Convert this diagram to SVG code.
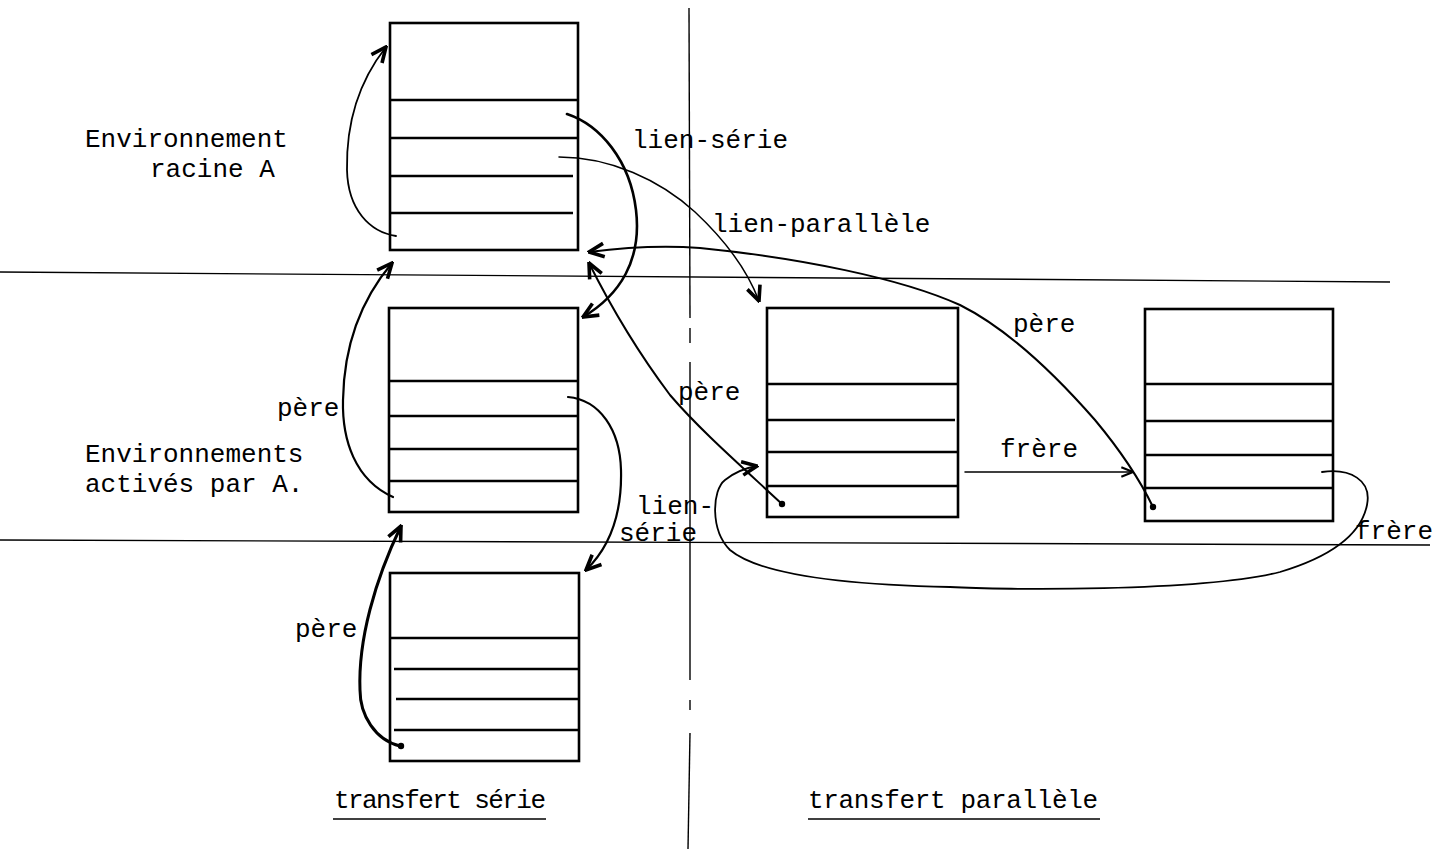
<svg xmlns="http://www.w3.org/2000/svg" width="1445" height="849" viewBox="0 0 1445 849">
<defs>
<marker id="arr" viewBox="0 0 12 12" refX="11" refY="6" markerWidth="18" markerHeight="18" markerUnits="userSpaceOnUse" orient="auto">
<path d="M1,1.5 L11,6 L1,10.5" fill="none" stroke="#000" stroke-width="2.4" stroke-linejoin="miter"/>
</marker>
<marker id="arrs" viewBox="0 0 12 12" refX="11" refY="6" markerWidth="14" markerHeight="14" markerUnits="userSpaceOnUse" orient="auto">
<path d="M1,2 L11,6 L1,10" fill="none" stroke="#000" stroke-width="1.8"/>
</marker>
</defs>
<style>
.box{fill:none;stroke:#000;stroke-width:2.6}
.div{stroke:#000;stroke-width:2.4}
.guide{stroke:#000;stroke-width:1.4;fill:none}
.c{fill:none;stroke:#000;stroke-linecap:round}
.t{font-family:"Liberation Mono","DejaVu Sans Mono",monospace;font-size:26px;fill:#000}
.dot{fill:#000}
</style>
<rect width="1445" height="849" fill="#fff"/>

<g id="guides">
<line class="guide" x1="0" y1="272" x2="1390" y2="282"/>
<line class="guide" x1="0" y1="540" x2="1430" y2="545"/>
<line class="guide" x1="689" y1="8" x2="690" y2="318"/>
<line class="guide" x1="690" y1="328" x2="690" y2="343"/>
<line class="guide" x1="690" y1="362" x2="690" y2="680"/>
<line class="guide" x1="690" y1="700" x2="690" y2="710"/>
<line class="guide" x1="690" y1="733" x2="688" y2="849"/>
</g>

<g id="boxA">
<rect class="box" x="390" y="23" width="188" height="227"/>
<line class="div" x1="390" y1="100" x2="578" y2="100"/>
<line class="div" x1="390" y1="138" x2="578" y2="138"/>
<line class="div" x1="390" y1="176" x2="573" y2="176"/>
<line class="div" x1="390" y1="213" x2="573" y2="213"/>
</g>

<g id="boxB">
<rect class="box" x="389" y="308" width="189" height="204"/>
<line class="div" x1="389" y1="381" x2="578" y2="381"/>
<line class="div" x1="389" y1="416" x2="578" y2="416"/>
<line class="div" x1="389" y1="449" x2="578" y2="449"/>
<line class="div" x1="389" y1="481" x2="578" y2="481"/>
</g>

<g id="boxC">
<rect class="box" x="390" y="573" width="189" height="188"/>
<line class="div" x1="390" y1="638" x2="579" y2="638"/>
<line class="div" x1="394" y1="669" x2="579" y2="669"/>
<line class="div" x1="396" y1="699" x2="579" y2="699"/>
<line class="div" x1="394" y1="730" x2="579" y2="730"/>
</g>

<g id="boxD">
<rect class="box" x="767" y="308" width="191" height="209"/>
<line class="div" x1="767" y1="384" x2="958" y2="384"/>
<line class="div" x1="767" y1="420" x2="955" y2="420"/>
<line class="div" x1="767" y1="452" x2="958" y2="452"/>
<line class="div" x1="767" y1="486" x2="958" y2="486"/>
</g>

<g id="boxE">
<rect class="box" x="1145" y="309" width="188" height="212"/>
<line class="div" x1="1145" y1="384" x2="1333" y2="384"/>
<line class="div" x1="1145" y1="421" x2="1333" y2="421"/>
<line class="div" x1="1145" y1="455" x2="1333" y2="455"/>
<line class="div" x1="1145" y1="488" x2="1333" y2="488"/>
</g>

<g id="connectors">
<path class="c" stroke-width="1.8" d="M 396 236 C 370 232, 348 210, 347 170 C 346 120, 360 80, 386 47" marker-end="url(#arr)"/>
<path class="c" stroke-width="2.2" d="M 393 497 C 355 480, 342 440, 343 400 C 344 340, 365 295, 392 263" marker-end="url(#arr)"/>
<path class="c" stroke-width="3" d="M 400 746 C 375 740, 360 715, 360 690 C 358 640, 375 580, 401 526" marker-end="url(#arr)"/>
<path class="c" stroke-width="2.6" d="M 567 114 C 600 125, 630 160, 636 210 C 642 260, 620 295, 583 317" marker-end="url(#arr)"/>
<path class="c" stroke-width="1.5" d="M 559 157 C 610 157, 660 180, 695 212 C 725 240, 748 272, 759 301" marker-end="url(#arr)"/>
<path class="c" stroke-width="2" d="M 1153 507 C 1140 480, 1120 450, 1095 420 C 1060 380, 1010 330, 960 305 C 900 278, 800 258, 700 248 C 660 245, 620 248, 589 252" marker-end="url(#arr)"/>
<path class="c" stroke-width="2" d="M 782 504 C 740 465, 700 430, 670 395 C 640 355, 610 305, 589 263" marker-end="url(#arr)"/>
<path class="c" stroke-width="2.2" d="M 568 397 C 600 400, 620 430, 621 470 C 622 510, 612 545, 586 570" marker-end="url(#arr)"/>
<path class="c" stroke-width="1.8" d="M 1322 472 C 1350 468, 1372 480, 1367 505 C 1360 540, 1320 560, 1280 572 C 1200 592, 1000 590, 950 587 C 850 585, 760 575, 730 550 C 710 530, 712 490, 725 480 C 735 472, 745 468, 757 466" marker-end="url(#arr)"/>
<path class="c" stroke-width="1.5" d="M 965 472 L 1133 472" marker-end="url(#arrs)"/>
<circle class="dot" cx="782" cy="504" r="3.2"/>
<circle class="dot" cx="1153" cy="507" r="3.2"/>
<circle class="dot" cx="401" cy="746" r="3.2"/>
</g>

<g id="labels">
<text class="t" x="85" y="147">Environnement</text>
<text class="t" x="150" y="177">racine A</text>
<text class="t" x="632" y="148">lien-série</text>
<text class="t" x="712" y="232">lien-parallèle</text>
<text class="t" x="1013" y="332">père</text>
<text class="t" x="678" y="400">père</text>
<text class="t" x="277" y="416">père</text>
<text class="t" x="1000" y="457">frère</text>
<text class="t" x="85" y="462">Environnements</text>
<text class="t" x="85" y="492">activés par A.</text>
<text class="t" x="636" y="514" font-size="23">lien-</text>
<text class="t" x="619" y="541" font-size="23">série</text>
<text class="t" x="1355" y="539">frère</text>
<text class="t" x="295" y="637">père</text>
<text class="t" x="334" y="808" font-size="24" textLength="212">transfert série</text>
<text class="t" x="808" y="808" font-size="24" textLength="290">transfert parallèle</text>
<line class="guide" x1="333" y1="819" x2="546" y2="819"/>
<line class="guide" x1="808" y1="819" x2="1100" y2="819"/>
</g>
</svg>
